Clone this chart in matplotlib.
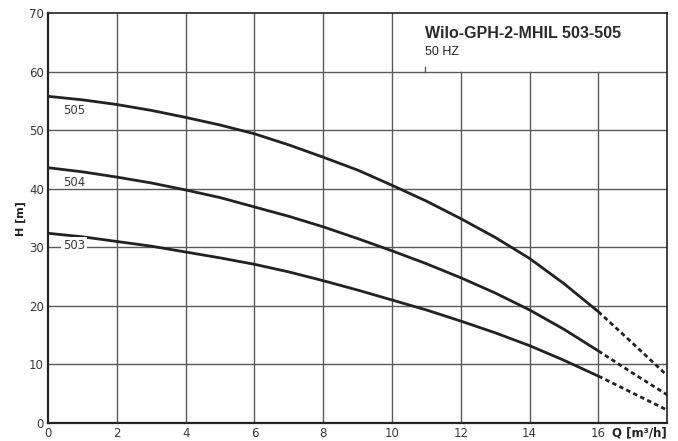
import matplotlib.pyplot as plt

# pump curves, Q in m3/h, H in m
q = [0, 1, 2, 3, 4, 5, 6, 7, 8, 9, 10, 11, 12, 13, 14, 15, 16]
h_505 = [55.8, 55.2, 54.4, 53.4, 52.2, 50.9, 49.4, 47.5, 45.4, 43.2, 40.6, 37.9, 34.9, 31.7, 28.1, 23.8, 19.0]
h_504 = [43.6, 42.9, 42.0, 41.0, 39.8, 38.5, 36.9, 35.3, 33.5, 31.5, 29.4, 27.2, 24.8, 22.2, 19.3, 16.0, 12.3]
h_503 = [32.4, 31.8, 31.0, 30.2, 29.2, 28.2, 27.1, 25.8, 24.3, 22.7, 21.0, 19.3, 17.4, 15.4, 13.2, 10.7, 8.0]

# dashed extension beyond the operating range
q_ext = [16, 17, 18]
ext_505 = [19.0, 13.6, 8.1]
ext_504 = [12.3, 8.5, 4.8]
ext_503 = [8.0, 5.1, 2.2]

models = ["505", "504", "503"]
label_h = [53.3, 41.0, 30.3]

xticks = [0, 2, 4, 6, 8, 10, 12, 14, 16]
yticks = [0, 10, 20, 30, 40, 50, 60, 70]

narrow = ["DejaVu Sans"]
line_col = "#222222"
grid_col = "#5a5a5a"
txt_col = "#3a3a3a"

fig = plt.figure(figsize=(6.78, 4.41), dpi=100)
ax = fig.add_axes([0.071, 0.041, 0.913, 0.929])
ax.set_xlim(0, 18)
ax.set_ylim(0, 70)

# grid (vertical lines right of Q=10 stop below the title box)
for x in range(2, 18, 2):
    top = 60 if x > 10 else 70
    ax.plot([x, x], [0, top], color=grid_col, lw=1, zorder=1)
for y in range(10, 70, 10):
    ax.plot([0, 18], [y, y], color=grid_col, lw=1, zorder=1)
ax.plot([10.95, 10.95], [60, 60.8], color=grid_col, lw=1, zorder=1)

for hv, ext in zip([h_505, h_504, h_503], [ext_505, ext_504, ext_503]):
    ax.plot(q, hv, color=line_col, lw=2, zorder=3, solid_capstyle="butt")
    ax.plot(q_ext, ext, color=line_col, lw=2, ls=(0, (1.6, 1.2)), zorder=3)

for name, yh in zip(models, label_h):
    box = dict(facecolor="white", edgecolor="none", pad=1.5) if name == "503" else None
    ax.text(0.75, yh, name, fontsize=8.5, color=txt_col, family=narrow,
            ha="center", va="center", zorder=4, bbox=box)

ax.text(10.97, 66.6, "Wilo-GPH-2-MHIL 503-505", fontsize=11.5, weight="bold",
        family=["Liberation Sans", "DejaVu Sans"], color="#2a2a2a", va="center")
ax.text(10.97, 63.4, "50 HZ", fontsize=9, family=["Liberation Sans", "DejaVu Sans"],
        color="#222222", va="center")

for side in ["left", "bottom"]:
    ax.spines[side].set_linewidth(1.6)
for side in ["top", "right"]:
    ax.spines[side].set_linewidth(1.2)
for s in ax.spines.values():
    s.set_color("#222222")
    s.set_zorder(5)

ax.set_xticks(xticks)
ax.set_yticks(yticks)
ax.tick_params(length=0, pad=3, labelsize=8.5, labelcolor=txt_col)
for lab in ax.get_xticklabels() + ax.get_yticklabels():
    lab.set_family(narrow)

ax.text(18, -1.75, "Q [m³/h]", fontsize=8.5, weight="bold", family=narrow,
        color="#222222", ha="right", va="center")
ax.set_ylabel("H [m]", fontsize=8, weight="bold", family=narrow,
              color="#222222", labelpad=2)

fig.savefig("out.png", dpi=100)
